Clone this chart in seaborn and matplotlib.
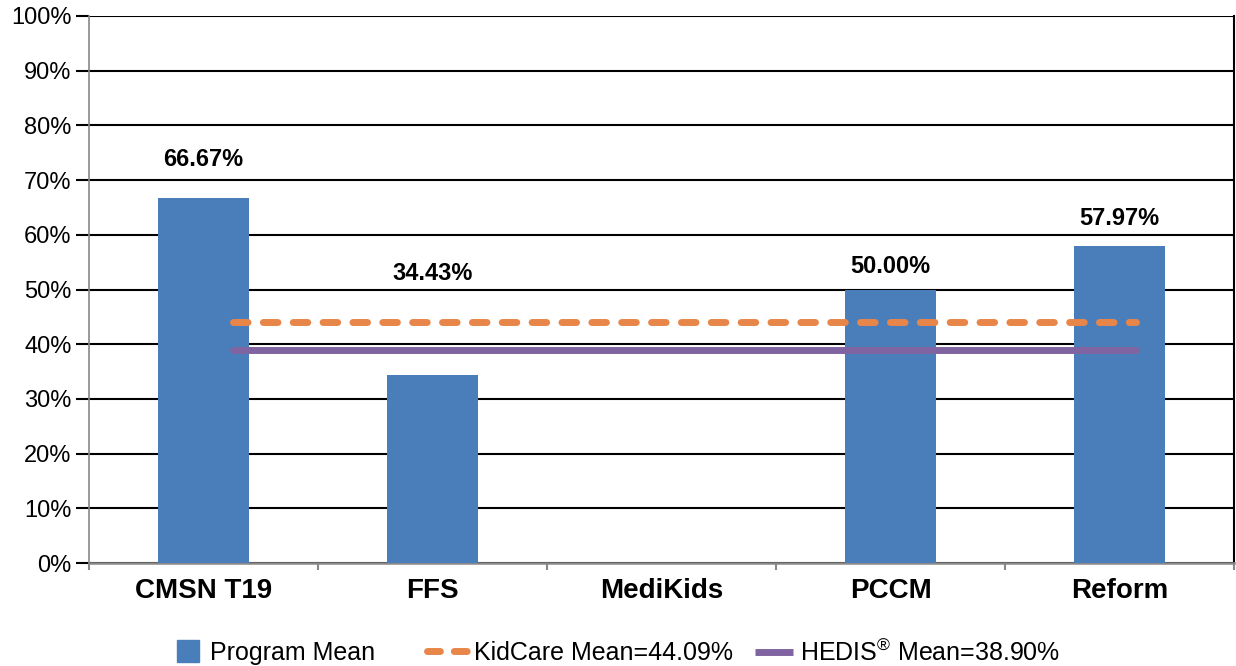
import matplotlib
matplotlib.use("Agg")
import matplotlib.pyplot as plt
from matplotlib.lines import Line2D
import numpy as np
import pandas as pd
import seaborn as sns

# Chart data
categories = ["CMSN T19", "FFS", "MediKids", "PCCM", "Reform"]
program_mean = [66.67, 34.43, np.nan, 50.00, 57.97]
kidcare_mean = 44.09
hedis_mean = 38.90
y_ticks = list(range(0, 101, 10))

# Label offsets above each bar (pixels); FFS label sits above the reference lines
label_offsets = [39, 101, 0, 23, 27]

BLUE = "#4A7EBB"
ORANGE = "#E8864A"
PURPLE = "#8064A2"

sns.set_theme(style="white")
plt.rcParams["font.family"] = ["Liberation Sans", "DejaVu Sans"]
plt.rcParams["mathtext.fontset"] = "custom"
plt.rcParams["mathtext.rm"] = "Liberation Sans"
plt.rcParams["text.color"] = "black"
plt.rcParams["xtick.color"] = "black"
plt.rcParams["ytick.color"] = "black"

W, H = 1236, 666
fig = plt.figure(figsize=(W / 100, H / 100), dpi=100)
ax = fig.add_axes([89 / W, 1 - 563 / H, (1234 - 89) / W, (563 - 16) / H])

df = pd.DataFrame({"category": categories, "value": program_mean})
sns.barplot(data=df, x="category", y="value", order=categories, color=BLUE,
            saturation=1, width=0.4, ax=ax, zorder=3, errorbar=None, linewidth=0)

# Mean reference lines across the programs
line_x = [0.13, 4.07]
ax.plot(line_x, [kidcare_mean] * 2, color=ORANGE, lw=5, dashes=(2.1, 2.2),
        dash_capstyle="round", zorder=4)
ax.plot(line_x, [hedis_mean] * 2, color=PURPLE, lw=5, solid_capstyle="round", zorder=4)

# Value labels
for i, (v, off) in enumerate(zip(program_mean, label_offsets)):
    if np.isnan(v):
        continue
    ax.annotate(f"{v:.2f}%", xy=(i, v), xytext=(0, off * 0.72), textcoords="offset points",
                ha="center", va="center", fontsize=17, fontweight="bold", color="black")

ax.set_ylim(0, 100)
ax.set_xlim(-0.5, 4.5)
ax.set_yticks(y_ticks)
ax.set_yticklabels([f"{t}%" for t in y_ticks], fontsize=17)
ax.yaxis.grid(True, color="black", lw=1.5, zorder=1)
ax.tick_params(axis="y", length=9.5, width=1.5, color="black", pad=3, left=True)

ax.set_xticks(range(len(categories)))
ax.set_xticklabels(categories, fontsize=20, fontweight="bold")
ax.tick_params(axis="x", length=0, pad=11)
ax.set_xticks(np.arange(-0.5, 4.6, 1), minor=True)
ax.tick_params(axis="x", which="minor", length=5, width=1.5, color="#888888", bottom=True)
ax.set_xlabel("")
ax.set_ylabel("")

for side in ["left", "bottom"]:
    ax.spines[side].set_color("#888888")
    ax.spines[side].set_linewidth(1.2)
ax.spines["bottom"].set_linewidth(1.8)
ax.spines["right"].set_color("black")
ax.spines["right"].set_linewidth(1.5)
ax.spines["top"].set_visible(False)

# Legend entries placed individually along the bottom
legend_items = [
    (Line2D([], [], marker="s", markersize=16, linestyle="none", color=BLUE),
     "Program Mean", 1.2, 173),
    (Line2D([], [], color=ORANGE, lw=5, dashes=(1.86, 2.0), dash_capstyle="round"),
     "KidCare Mean=44.09%", 1.6, 427),
    (Line2D([], [], color=PURPLE, lw=5, solid_capstyle="butt"),
     r"HEDIS$^{\mathregular{®}}$ Mean=38.90%", 1.5, 755),
]
for handle, label, hlen, x0 in legend_items:
    fig.legend([handle], [label], loc="center left", bbox_to_anchor=(x0 / W, 1 - 653 / H),
               frameon=False, fontsize=18, handlelength=hlen, handletextpad=0.3,
               borderpad=0, borderaxespad=0)

fig.savefig("out.png", dpi=100)
